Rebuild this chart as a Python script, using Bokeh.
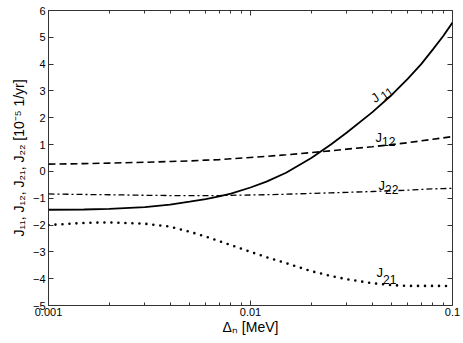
import math
from bokeh.plotting import figure
from bokeh.models import LogAxis, LinearAxis, FixedTicker, Label, Range1d
from bokeh.embed import file_html
from bokeh.resources import INLINE

# ---------------- data ----------------
delta_n = [0.001, 0.0015, 0.002, 0.003, 0.004, 0.005, 0.006, 0.007, 0.008, 0.01,
           0.012, 0.015, 0.02, 0.025, 0.03, 0.04, 0.05, 0.06, 0.07, 0.08, 0.09, 0.1]
j11 = [-1.43, -1.42, -1.40, -1.33, -1.24, -1.13, -1.03, -0.93, -0.83, -0.60,
       -0.38, -0.05, 0.50, 1.00, 1.45, 2.20, 2.85, 3.45, 4.00, 4.55, 5.05, 5.55]
j12 = [0.27, 0.29, 0.31, 0.34, 0.37, 0.39, 0.42, 0.44, 0.47, 0.52,
       0.56, 0.62, 0.70, 0.77, 0.83, 0.92, 1.00, 1.07, 1.14, 1.20, 1.25, 1.30]
j22 = [-0.84, -0.86, -0.87, -0.89, -0.90, -0.90, -0.90, -0.90, -0.89, -0.88,
       -0.87, -0.85, -0.82, -0.80, -0.78, -0.75, -0.72, -0.70, -0.67, -0.65, -0.64, -0.63]
j21 = [-2.00, -1.92, -1.90, -1.95, -2.06, -2.25, -2.43, -2.60, -2.75, -3.00,
       -3.20, -3.42, -3.72, -3.90, -4.02, -4.17, -4.24, -4.27, -4.27, -4.27, -4.27, -4.28]

x_major_ticks = [0.001, 0.01, 0.1]
x_tick_labels = ["0.001", "0.01", "0.1"]
x_minor_ticks = [0.002, 0.003, 0.004, 0.005, 0.006, 0.007, 0.008, 0.009,
                 0.02, 0.03, 0.04, 0.05, 0.06, 0.07, 0.08, 0.09]
y_ticks = [-5, -4, -3, -2, -1, 0, 1, 2, 3, 4, 5, 6]
y_tick_labels = ["\u22125", "\u22124", "\u22123", "\u22122", "\u22121", "0",
                 "1", "2", "3", "4", "5", "6"]
x_title = "\u0394\u2099 [MeV]"
y_title = "J\u2081\u2081, J\u2081\u2082, J\u2082\u2081, J\u2082\u2082 [10\u207b\u2075 1/yr]"

FONT = "Liberation Sans"
W, H = 461, 341
BL, BT, BR, BB = 48, 10, 9, 36

p = figure(width=W, height=H, x_axis_type="log",
           x_range=Range1d(0.001, 0.1), y_range=Range1d(-5, 6),
           output_backend="svg", toolbar_location=None,
           min_border_left=BL, min_border_top=BT,
           min_border_right=BR, min_border_bottom=BB)
p.grid.visible = False
p.outline_line_color = "#333333"
p.outline_line_width = 1
p.background_fill_color = "white"
p.border_fill_color = "white"


def style_axis(ax, show_labels):
    ax.axis_line_color = None
    ax.major_tick_in = 5
    ax.major_tick_out = 0
    ax.minor_tick_in = 3
    ax.minor_tick_out = 0
    ax.major_tick_line_color = "#333333"
    ax.minor_tick_line_color = "#333333"
    ax.major_label_text_font = FONT
    ax.major_label_text_color = "black"
    ax.axis_label_text_font = FONT
    ax.axis_label_text_font_style = "normal"
    ax.axis_label_text_color = "black"
    if show_labels:
        ax.major_label_text_font_size = "11px"
    else:
        ax.major_label_text_font_size = "1px"
        ax.major_label_text_alpha = 0.0
        ax.major_label_standoff = 0


xb = p.xaxis[0]
xb.ticker = FixedTicker(ticks=x_major_ticks, minor_ticks=x_minor_ticks)
xb.major_label_overrides = dict(zip(x_major_ticks, x_tick_labels))
style_axis(xb, True)
xb.major_label_standoff = 2
xb.axis_label = x_title
xb.axis_label_text_font_size = "14px"
xb.axis_label_standoff = 0

yl = p.yaxis[0]
yl.ticker = FixedTicker(ticks=y_ticks)
yl.major_label_overrides = dict(zip(y_ticks, y_tick_labels))
style_axis(yl, True)
yl.minor_tick_line_color = None
yl.major_label_standoff = 3
yl.axis_label = y_title
yl.axis_label_text_font_size = "14px"
yl.axis_label_standoff = 3

xt = LogAxis(ticker=FixedTicker(ticks=x_major_ticks, minor_ticks=x_minor_ticks))
style_axis(xt, False)
p.add_layout(xt, "above")

yr = LinearAxis(ticker=FixedTicker(ticks=y_ticks))
style_axis(yr, False)
yr.minor_tick_line_color = None
p.add_layout(yr, "right")

# ---------------- curves ----------------
p.line(delta_n, j11, line_color="black", line_width=1.8)
p.line(delta_n, j12, line_color="black", line_width=1.6, line_dash="7 4")
p.line(delta_n, j22, line_color="black", line_width=1.3, line_dash="6 3 2 3")
p.line(delta_n, j21, line_color="black", line_width=2.6, line_dash="0 7",
       line_cap="round")


# ---------------- curve labels (pixel -> data helpers) ----------------
def ref_xy(px, py):
    return 10 ** (-3 + (px - 48) / 202.0), 6 - (py - 10) / 26.8


def add_text(xy, text, size, angle=0.0):
    x, y = xy
    p.add_layout(Label(x=x, y=y, text=text, text_font=FONT,
                       text_font_size=f"{size}px", text_color="black",
                       text_align="left", text_baseline="alphabetic",
                       angle=angle))


def curve_label(px, py, sub, angle_deg=0.0, drop=4.0, gap=0.0, size=13, sub_size=12):
    a = math.radians(angle_deg)
    ux, uy = math.cos(a), -math.sin(a)
    nx, ny = math.sin(a), math.cos(a)
    add_text(ref_xy(px, py), "J", size, a)
    wj = 0.5 * size + gap
    sx = px + wj * ux + drop * nx
    sy = py + wj * uy + drop * ny
    add_text(ref_xy(sx, sy), sub, sub_size, a)


curve_label(372, 99, "11", angle_deg=35, drop=3.0, gap=2.5)
curve_label(375, 137, "12")
curve_label(378, 185, "22")
curve_label(376, 272, "21", drop=7)

open("out.html", "w").write(file_html(p, INLINE))
